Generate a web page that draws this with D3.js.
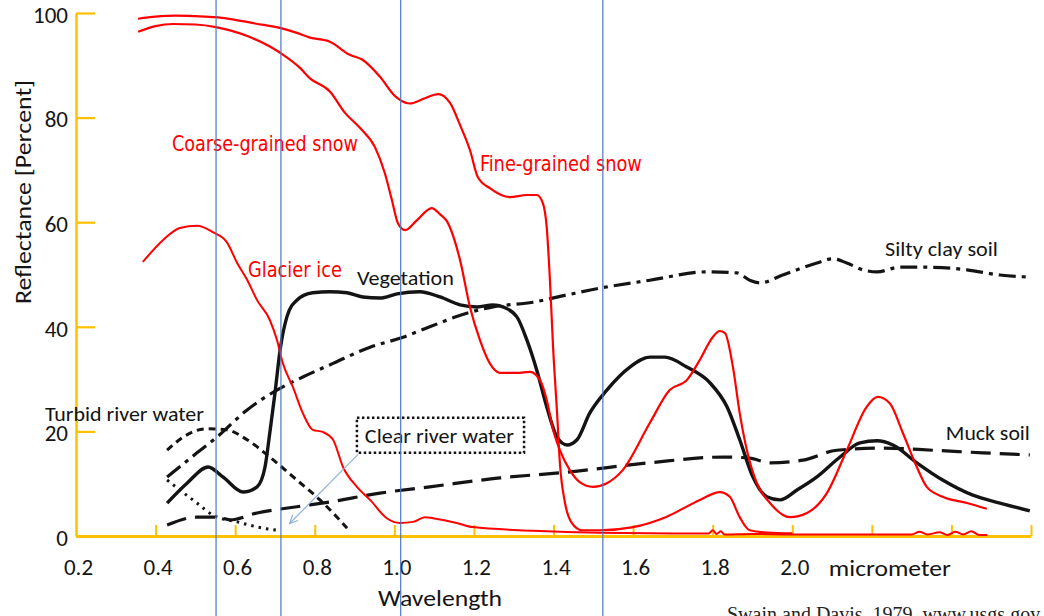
<!DOCTYPE html>
<html>
<head>
<meta charset="utf-8">
<script src="https://cdn.jsdelivr.net/npm/d3@7"></script>
<style>
  html, body { margin: 0; padding: 0; background: #ffffff; }
  svg { display: block; }
</style>
</head>
<body>
<svg id="chart" width="1044" height="616"></svg>
<script>
// Spectral reflectance curves: [wavelength (micrometre), reflectance (%)]
const fineSnow = [
  [0.356, 98.9], [0.40, 99.3], [0.45, 99.5], [0.50, 99.4], [0.552, 99.2], [0.60, 98.7],
  [0.65, 98.0], [0.715, 97.1], [0.755, 96.2], [0.788, 95.3], [0.838, 94.5], [0.888, 92.0],
  [0.919, 91.1], [0.964, 87.8], [1.002, 84.1], [1.014, 83.4], [1.039, 82.7], [1.077, 83.7],
  [1.11, 84.5], [1.14, 82.8], [1.165, 78.6], [1.19, 73.8], [1.21, 68.6], [1.24, 66.5],
  [1.29, 64.8], [1.333, 65.2], [1.358, 65.2], [1.373, 63.7], [1.383, 59.0], [1.391, 49.0],
  [1.399, 36.0], [1.409, 23.5], [1.416, 14.0], [1.429, 6.3], [1.446, 2.5], [1.471, 1.1],
  [1.517, 1.1], [1.60, 1.7], [1.685, 3.7], [1.768, 6.9], [1.818, 8.4], [1.843, 7.5],
  [1.868, 3.6], [1.893, 1.1], [1.95, 0.6], [2.0, 0.5]
];
const coarseSnow = [
  [0.356, 96.4], [0.40, 97.5], [0.444, 97.9], [0.50, 97.8], [0.552, 97.3], [0.637, 95.4],
  [0.715, 92.3], [0.763, 89.5], [0.788, 87.5], [0.838, 85.0], [0.876, 80.9], [0.914, 78.0],
  [0.951, 74.4], [0.976, 69.4], [0.994, 64.2], [1.009, 59.8], [1.027, 58.5], [1.057, 60.4],
  [1.094, 62.7], [1.115, 61.5], [1.132, 60.2], [1.165, 52.8], [1.19, 43.8], [1.215, 37.5],
  [1.24, 33.0], [1.265, 31.2], [1.308, 31.2], [1.341, 31.4], [1.366, 29.8], [1.383, 26.0],
  [1.399, 20.3], [1.416, 16.4], [1.441, 12.6], [1.466, 10.3], [1.499, 9.4], [1.534, 10.1],
  [1.574, 12.6], [1.642, 21.6], [1.692, 27.9], [1.735, 29.8], [1.768, 33.7], [1.80, 38.0],
  [1.818, 39.2], [1.831, 38.8], [1.851, 32.3], [1.868, 23.5], [1.886, 16.4], [1.911, 10.1],
  [1.944, 6.3], [1.994, 3.6], [2.037, 4.4], [2.087, 8.2], [2.137, 16.4], [2.187, 24.7],
  [2.215, 26.6], [2.245, 25.4], [2.278, 19.7], [2.313, 13.2], [2.338, 9.4], [2.378, 7.5],
  [2.439, 6.3], [2.489, 5.2]
];
const glacierIce = [
  [0.368, 52.4], [0.419, 56.6], [0.461, 58.9], [0.504, 59.3], [0.544, 58.1], [0.579, 56.2],
  [0.605, 52.2], [0.63, 49.0], [0.655, 45.1], [0.687, 41.3], [0.705, 37.5], [0.72, 33.0],
  [0.745, 28.5], [0.77, 23.5], [0.795, 20.3], [0.82, 19.9], [0.846, 18.4], [0.871, 13.2],
  [0.906, 9.4], [0.939, 6.9], [0.981, 3.4], [1.014, 2.5], [1.047, 2.7], [1.077, 3.6],
  [1.097, 3.4], [1.157, 2.5], [1.197, 1.7], [1.348, 1.0], [1.517, 0.6], [1.70, 0.5],
  [1.79, 0.5], [1.80, 1.1], [1.81, 0.4], [1.82, 0.9], [1.83, 0.3], [1.90, 0.4], [2.0, 0.3],
  [2.2, 0.3], [2.3, 0.3], [2.32, 0.8], [2.34, 0.3], [2.37, 0.7], [2.39, 0.2], [2.41, 0.8],
  [2.43, 0.3], [2.45, 0.9], [2.47, 0.2], [2.49, 0.2]
];
const vegetation = [
  [0.429, 6.3], [0.479, 10.1], [0.532, 13.2], [0.569, 11.3], [0.62, 8.4], [0.655, 9.4],
  [0.675, 13.2], [0.687, 19.7], [0.70, 27.3], [0.713, 35.6], [0.73, 41.9], [0.755, 45.1],
  [0.795, 46.5], [0.838, 46.7], [0.881, 46.5], [0.921, 45.7], [0.964, 45.5], [1.007, 46.3],
  [1.064, 46.7], [1.115, 45.7], [1.165, 44.2], [1.208, 43.8], [1.248, 44.2], [1.273, 43.8],
  [1.308, 41.9], [1.333, 37.5], [1.358, 31.7], [1.383, 24.7], [1.409, 18.9], [1.434, 17.4],
  [1.459, 18.4], [1.491, 23.5], [1.534, 27.9], [1.592, 32.3], [1.642, 34.2], [1.68, 34.2],
  [1.735, 32.3], [1.793, 29.3], [1.836, 24.7], [1.868, 18.4], [1.901, 11.3], [1.936, 7.5],
  [1.969, 6.9], [2.012, 8.8], [2.062, 11.3], [2.12, 15.1], [2.17, 17.8], [2.213, 18.2],
  [2.253, 17.4], [2.313, 14.0], [2.378, 10.7], [2.454, 7.8], [2.522, 6.3], [2.597, 4.8]
];
const siltyClaySoil = [
  [0.429, 11.3], [0.504, 15.9], [0.554, 18.9], [0.63, 24.1], [0.705, 27.9], [0.77, 30.4],
  [0.846, 33.0], [0.939, 36.1], [1.022, 38.0], [1.089, 40.0], [1.182, 42.6], [1.248, 43.8],
  [1.348, 44.7], [1.434, 46.1], [1.517, 47.4], [1.642, 48.9], [1.785, 50.5], [1.861, 50.3],
  [1.893, 48.9], [1.919, 48.4], [1.976, 49.9], [2.062, 52.2], [2.102, 53.0], [2.137, 52.2],
  [2.177, 50.9], [2.213, 50.5], [2.27, 51.4], [2.328, 51.4], [2.439, 50.9], [2.522, 49.9],
  [2.597, 49.5]
];
const muckSoil = [
  [0.429, 2.1], [0.504, 3.6], [0.554, 3.6], [0.587, 3.1], [0.655, 4.4], [0.755, 5.6],
  [0.838, 6.5], [0.964, 8.2], [1.089, 9.4], [1.265, 11.1], [1.434, 12.2], [1.642, 14.0],
  [1.826, 15.1], [1.893, 14.9], [1.944, 14.0], [2.027, 14.5], [2.112, 16.4], [2.228, 16.8],
  [2.353, 16.4], [2.479, 15.9], [2.597, 15.5]
];
const turbidRiverWater = [
  [0.429, 16.4], [0.469, 18.9], [0.529, 20.5], [0.579, 20.3], [0.63, 18.4], [0.687, 15.1],
  [0.755, 10.7], [0.813, 6.9], [0.856, 3.6], [0.881, 1.5]
];
const clearRiverWater = [
  [0.429, 10.7], [0.461, 8.8], [0.504, 6.3], [0.544, 4.0], [0.605, 2.7], [0.67, 1.5],
  [0.705, 1.1]
];

// Sensor band markers (micrometre)
const bandLines = [0.552, 0.715, 1.016, 1.524];

// Axis ticks
const xTickLabels = [0.2, 0.4, 0.6, 0.8, 1.0, 1.2, 1.4, 1.6, 1.8, 2.0];
const xTickMarks = [0.4, 0.6, 0.8, 1.0, 1.2, 1.4, 1.6, 1.8, 2.0, 2.2, 2.4, 2.6];
const yTicks = [0, 20, 40, 60, 80, 100];

// Curve label texts
const redLabels = ["Coarse-grained snow", "Fine-grained snow", "Glacier ice"];
const blackLabels = ["Vegetation", "Silty clay soil", "Muck soil", "Turbid river water"];
const boxedLabel = "Clear river water";

// ---------------------------------------------------------------
const svg = d3.select("#chart");
const W = 1044, H = 616;
svg.append("rect").attr("width", W).attr("height", H).attr("fill", "#ffffff");

const x = d3.scaleLinear().domain([0.2, 2.6]).range([76, 1031]);
const y = d3.scaleLinear().domain([0, 100]).range([536, 13]);

const GOLD = "#ffc000";
const RED = "#ff0000";
const INK = "#141414";
const SANS = "Carlito, Lato, 'Open Sans', sans-serif";
const NARROW = "'Liberation Sans Narrow', 'DejaVu Sans Condensed', 'Arial Narrow', sans-serif";

const line = d3.line()
  .x(d => x(d[0]))
  .y(d => y(d[1]))
  .curve(d3.curveMonotoneX);

// ---- axes ----
const gx = svg.append("g")
  .attr("transform", `translate(0,${y(0)})`)
  .call(d3.axisBottom(x).tickValues(xTickMarks).tickSize(-11).tickSizeOuter(0).tickFormat(""));
gx.select(".domain").attr("stroke", GOLD).attr("stroke-width", 3);
gx.selectAll(".tick line").attr("stroke", GOLD).attr("stroke-width", 2);

const gxl = svg.append("g")
  .attr("transform", `translate(0,${y(0)})`)
  .call(d3.axisBottom(x).tickValues(xTickLabels).tickSize(0).tickPadding(23).tickFormat(d3.format(".1f")));
gxl.select(".domain").remove();
gxl.selectAll("text")
  .attr("font-family", SANS).attr("font-size", 23).attr("fill", INK)
  .attr("dx", 2);

const gy = svg.append("g")
  .attr("transform", `translate(${x(0.2)},0)`)
  .call(d3.axisLeft(y).tickValues(yTicks).tickSize(-19).tickSizeOuter(0).tickPadding(8));
gy.select(".domain").attr("stroke", GOLD).attr("stroke-width", 2.5);
gy.selectAll(".tick line").attr("stroke", GOLD).attr("stroke-width", 2.2);
gy.selectAll("text")
  .attr("font-family", SANS).attr("font-size", 23).attr("fill", INK).attr("dy", "0.4em");

// axis titles
svg.append("text")
  .attr("x", x(2.092)).attr("y", 576)
  .attr("font-family", SANS).attr("font-size", 22).attr("fill", INK)
  .attr("textLength", 122).attr("lengthAdjust", "spacingAndGlyphs")
  .text("micrometer");
svg.append("text")
  .attr("x", 378).attr("y", 606)
  .attr("font-family", SANS).attr("font-size", 23).attr("fill", INK)
  .attr("textLength", 124).attr("lengthAdjust", "spacingAndGlyphs")
  .text("Wavelength");
svg.append("text")
  .attr("transform", "translate(23,192) rotate(-90)")
  .attr("text-anchor", "middle").attr("dy", "0.35em")
  .attr("font-family", SANS).attr("font-size", 23).attr("fill", INK)
  .attr("textLength", 224).attr("lengthAdjust", "spacingAndGlyphs")
  .text("Reflectance [Percent]");

// ---- curves ----
const series = [
  { values: siltyClaySoil, stroke: INK, width: 3.2, dash: "17,6,4,6" },
  { values: muckSoil, stroke: INK, width: 3.2, dash: "20,9" },
  { values: turbidRiverWater, stroke: INK, width: 3, dash: "7,5" },
  { values: clearRiverWater, stroke: INK, width: 3, dash: "2.5,5" },
  { values: vegetation, stroke: INK, width: 3.4, dash: null },
  { values: glacierIce, stroke: RED, width: 2, dash: null },
  { values: coarseSnow, stroke: RED, width: 2.2, dash: null },
  { values: fineSnow, stroke: RED, width: 2.2, dash: null }
];
svg.append("g").selectAll("path")
  .data(series)
  .join("path")
  .attr("d", d => line(d.values))
  .attr("fill", "none")
  .attr("stroke", d => d.stroke)
  .attr("stroke-width", d => d.width)
  .attr("stroke-dasharray", d => d.dash)
  .attr("stroke-linejoin", "round");

// ---- curve labels ----
// label anchors in data units: [wavelength, reflectance], plus rendered width
const redLabelPlacement = [
  { at: [0.441, 75.1], w: 186 },
  { at: [1.215, 71.3], w: 162 },
  { at: [0.632, 50.9], w: 94 }
];
svg.append("g").selectAll("text")
  .data(redLabels)
  .join("text")
  .attr("x", (d, i) => x(redLabelPlacement[i].at[0]))
  .attr("y", (d, i) => y(redLabelPlacement[i].at[1]))
  .attr("dy", "0.36em")
  .attr("font-family", NARROW).attr("font-stretch", "condensed")
  .attr("font-size", 21).attr("fill", RED)
  .attr("textLength", (d, i) => redLabelPlacement[i].w)
  .attr("lengthAdjust", "spacingAndGlyphs")
  .text(d => d);

const blackLabelPlacement = [
  { at: [0.906, 49.3], w: 97 },
  { at: [2.233, 54.9], w: 113 },
  { at: [2.386, 19.7], w: 84 },
  { at: [0.122, 23.4], w: 159 }
];
svg.append("g").selectAll("text")
  .data(blackLabels)
  .join("text")
  .attr("x", (d, i) => x(blackLabelPlacement[i].at[0]))
  .attr("y", (d, i) => y(blackLabelPlacement[i].at[1]))
  .attr("dy", "0.36em")
  .attr("font-family", SANS).attr("font-size", 20).attr("fill", INK)
  .attr("textLength", (d, i) => blackLabelPlacement[i].w)
  .attr("lengthAdjust", "spacingAndGlyphs")
  .text(d => d);

// boxed label with pointer arrow
const boxG = svg.append("g");
boxG.append("rect")
  .attr("x", x(0.906)).attr("y", y(22.6))
  .attr("width", x(1.326) - x(0.906)).attr("height", y(15.9) - y(22.6))
  .attr("fill", "none").attr("stroke", INK).attr("stroke-width", 2.5)
  .attr("stroke-dasharray", "2.5,2.5");
boxG.append("text")
  .attr("x", x(0.926)).attr("y", y(19.2)).attr("dy", "0.36em")
  .attr("font-family", SANS).attr("font-size", 20).attr("fill", INK)
  .attr("textLength", 149).attr("lengthAdjust", "spacingAndGlyphs")
  .text(boxedLabel);

const arrowFrom = [0.909, 15.6], arrowTo = [0.737, 2.4];
const ax0 = x(arrowFrom[0]), ay0 = y(arrowFrom[1]);
const ax1 = x(arrowTo[0]), ay1 = y(arrowTo[1]);
const ang = Math.atan2(ay1 - ay0, ax1 - ax0);
boxG.append("line")
  .attr("x1", ax0).attr("y1", ay0).attr("x2", ax1).attr("y2", ay1)
  .attr("stroke", "#8eb0db").attr("stroke-width", 1.2);
const headLen = 9, spread = 0.45;
boxG.append("polyline")
  .attr("points", [
    [ax1 - headLen * Math.cos(ang - spread), ay1 - headLen * Math.sin(ang - spread)],
    [ax1, ay1],
    [ax1 - headLen * Math.cos(ang + spread), ay1 - headLen * Math.sin(ang + spread)]
  ].map(p => p.join(",")).join(" "))
  .attr("fill", "none").attr("stroke", "#8eb0db").attr("stroke-width", 1.2);

// ---- band marker lines (full height) ----
svg.append("g").selectAll("line")
  .data(bandLines)
  .join("line")
  .attr("x1", d => x(d)).attr("x2", d => x(d))
  .attr("y1", 0).attr("y2", H)
  .attr("stroke", "#4a78c0").attr("stroke-width", 1.2);

// ---- source note ----
svg.append("text")
  .attr("x", 727).attr("y", 621)
  .attr("font-family", "'Liberation Serif', 'Times New Roman', serif")
  .attr("font-size", 20).attr("fill", "#222")
  .text("Swain and Davis, 1979, www.usgs.gov");
</script>
</body>
</html>
